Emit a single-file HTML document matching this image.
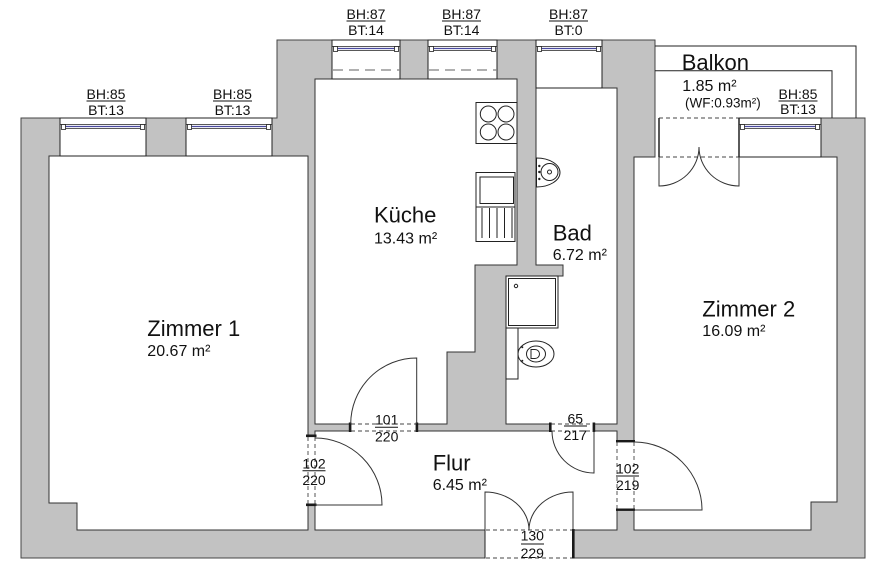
<!DOCTYPE html>
<html><head><meta charset="utf-8">
<style>
html,body{margin:0;padding:0;background:#fff;}
svg{display:block;}
text{font-family:"Liberation Sans",Arial,sans-serif;fill:#111;}
</style></head><body>
<svg width="896" height="584" viewBox="0 0 896 584" xmlns="http://www.w3.org/2000/svg">
<!-- building footprint (walls) -->
<path d="M21,118 H277 V40 H655 V118 H865 V558 H21 Z" fill="#c2c2c2" stroke="#444" stroke-width="1"/>

<!-- rooms -->
<g fill="#fff" stroke="#333" stroke-width="1">
<path d="M49,156 H308 V530 H77 V503 H49 Z"/>
<path d="M315,79 H517 V265 H475 V352 H447 V424 H315 Z"/>
<path d="M536,88 H617 V424 H506 V276 H563 V265 H536 Z"/>
<path d="M315,431 H617 V530 H315 Z"/>
<path d="M634,157 H837 V502 H811 V530 H634 Z"/>
</g>

<!-- door openings -->
<g fill="#fff" stroke="none">
<rect x="350.5" y="422.8" width="66" height="9"/>
<rect x="550.5" y="422.8" width="43" height="9"/>
<rect x="307" y="436.5" width="9" height="68"/>
<rect x="616" y="441.5" width="19" height="68"/>
<rect x="485.5" y="529" width="87" height="30"/>
<rect x="655.5" y="117.5" width="83" height="40.5"/>
</g>
<line x1="655" y1="118" x2="655" y2="157" stroke="#444" stroke-width="1"/>

<!-- windows -->
<g fill="#fff" stroke="#222" stroke-width="1">
<rect x="60" y="118" width="86" height="38"/>
<rect x="186" y="118" width="86" height="38"/>
<rect x="332" y="40" width="68" height="39"/>
<rect x="428" y="40" width="69" height="39"/>
<rect x="536" y="40" width="66" height="48"/>
<rect x="739" y="118" width="82" height="39"/>
</g>
<!-- window frames -->
<g stroke="#222" stroke-width="0.8" fill="#fff">
<g transform="translate(60,118)">
<line x1="0" y1="6.5" x2="86" y2="6.5"/><line x1="5" y1="10.5" x2="81" y2="10.5"/>
<line x1="5" y1="8.5" x2="81" y2="8.5" stroke="#4a4aa0" stroke-width="1.2"/>
<rect x="1.5" y="6.5" width="4" height="5"/><rect x="80.5" y="6.5" width="4" height="5"/></g>
<g transform="translate(186,118)">
<line x1="0" y1="6.5" x2="86" y2="6.5"/><line x1="5" y1="10.5" x2="81" y2="10.5"/>
<line x1="5" y1="8.5" x2="81" y2="8.5" stroke="#4a4aa0" stroke-width="1.2"/>
<rect x="1.5" y="6.5" width="4" height="5"/><rect x="80.5" y="6.5" width="4" height="5"/></g>
<g transform="translate(332,40)">
<line x1="0" y1="6.5" x2="68" y2="6.5"/><line x1="5" y1="10.5" x2="63" y2="10.5"/>
<line x1="5" y1="8.5" x2="63" y2="8.5" stroke="#4a4aa0" stroke-width="1.2"/>
<rect x="1.5" y="6.5" width="4" height="5"/><rect x="62.5" y="6.5" width="4" height="5"/></g>
<g transform="translate(428,40)">
<line x1="0" y1="6.5" x2="69" y2="6.5"/><line x1="5" y1="10.5" x2="64" y2="10.5"/>
<line x1="5" y1="8.5" x2="64" y2="8.5" stroke="#4a4aa0" stroke-width="1.2"/>
<rect x="1.5" y="6.5" width="4" height="5"/><rect x="63.5" y="6.5" width="4" height="5"/></g>
<g transform="translate(536,40)">
<line x1="0" y1="6.5" x2="66" y2="6.5"/><line x1="5" y1="10.5" x2="61" y2="10.5"/>
<line x1="5" y1="8.5" x2="61" y2="8.5" stroke="#4a4aa0" stroke-width="1.2"/>
<rect x="1.5" y="6.5" width="4" height="5"/><rect x="60.5" y="6.5" width="4" height="5"/></g>
<g transform="translate(739,118)">
<line x1="0" y1="6.5" x2="82" y2="6.5"/><line x1="5" y1="10.5" x2="77" y2="10.5"/>
<line x1="5" y1="8.5" x2="77" y2="8.5" stroke="#4a4aa0" stroke-width="1.2"/>
<rect x="1.5" y="6.5" width="4" height="5"/><rect x="76.5" y="6.5" width="4" height="5"/></g>
</g>
<!-- kitchen window sill dashed -->
<g stroke="#808080" stroke-width="1.2" stroke-dasharray="10 6">
<line x1="333" y1="70" x2="400" y2="70"/>
<line x1="429" y1="70" x2="497" y2="70"/>
</g>

<!-- balcony outline -->
<g stroke="#222" stroke-width="1" fill="none">
<path d="M655,46 H856 V118"/>
<path d="M655,70.7 H832 V118"/>
</g>

<!-- dashed door thresholds -->
<g stroke="#444" stroke-width="0.9" stroke-dasharray="4 3" fill="none">
<line x1="351" y1="424" x2="417" y2="424"/><line x1="351" y1="431" x2="417" y2="431"/>
<line x1="551" y1="424" x2="594" y2="424"/><line x1="551" y1="431" x2="594" y2="431"/>
<line x1="308" y1="437" x2="308" y2="505"/><line x1="315" y1="437" x2="315" y2="505"/>
<line x1="617" y1="442" x2="617" y2="510"/><line x1="634" y1="442" x2="634" y2="510"/>
<line x1="486" y1="530" x2="573" y2="530"/><line x1="486" y1="558" x2="573" y2="558"/>
<line x1="659" y1="118" x2="739" y2="118"/><line x1="659" y1="157" x2="739" y2="157"/>
</g>

<!-- jambs -->
<g fill="#1a1a1a">
<rect x="348.8" y="422.5" width="2.6" height="9.5"/><rect x="415.6" y="422.5" width="2.6" height="9.5"/>
<rect x="549" y="422.5" width="2.6" height="9.5"/><rect x="592.6" y="422.5" width="2.6" height="9.5"/>
<rect x="306" y="434.5" width="10.5" height="2.6"/><rect x="306" y="503.5" width="10.5" height="2.6"/>
<rect x="616" y="440" width="19" height="2.4"/><rect x="616" y="508.5" width="19" height="2.4"/>
<rect x="572" y="529" width="2.6" height="29.5"/>
</g>
<g stroke="#222" fill="none">
<line x1="485" y1="529" x2="485" y2="558.5" stroke-width="1"/>
<line x1="659" y1="118" x2="659" y2="157" stroke-width="1.5"/>
<line x1="739" y1="118" x2="739" y2="157" stroke-width="1.5"/>
</g>

<!-- door leaves -->
<g stroke="#333" stroke-width="1" fill="none">
<path d="M416.7,424 V358 A66,66 0 0,0 350.7,424"/>
<path d="M315,505 H382 A67,67 0 0,0 315,438"/>
<path d="M594,431 V473 A42,42 0 0,1 552,431"/>
<path d="M634,510 H702 A68,68 0 0,0 634,442"/>
<path d="M485,530 V492 A44,38 0 0,1 529,530"/>
<path d="M573,530 V492 A44,38 0 0,0 529,530"/>
<path d="M659,157 V186 A40,39 0 0,0 699,147"/>
<path d="M739,157 V186 A40,39 0 0,1 699,147"/>
</g>

<!-- kitchen fixtures -->
<g stroke="#222" stroke-width="1" fill="#fff">
<rect x="476" y="102.5" width="41" height="41"/>
<circle cx="488.3" cy="114" r="8"/><circle cx="506" cy="114" r="8"/>
<circle cx="488.3" cy="132" r="8"/><circle cx="506" cy="132" r="8"/>
<rect x="476" y="172.5" width="39" height="69"/>
<rect x="480" y="177" width="33.5" height="26.5"/>
<line x1="476" y1="207" x2="515" y2="207"/>
<line x1="482" y1="208" x2="482" y2="238"/>
<line x1="489.5" y1="208" x2="489.5" y2="238"/>
<line x1="497" y1="208" x2="497" y2="238"/>
<line x1="504.5" y1="208" x2="504.5" y2="238"/>
<line x1="512" y1="208" x2="512" y2="238"/>
</g>

<!-- bath fixtures -->
<g stroke="#222" stroke-width="1" fill="#fff">
<path d="M536.5,158 A23.5,14.5 0 0,1 536.5,187 Z"/>
<circle cx="549.5" cy="172" r="8.5"/>
<circle cx="549.5" cy="172" r="2"/>
<rect x="506" y="276" width="52" height="52"/>
<rect x="508.5" y="278.5" width="47" height="47"/>
<circle cx="516" cy="286" r="1.7"/>
<rect x="506" y="328" width="12" height="51"/>
<ellipse cx="536" cy="354" rx="18" ry="13"/>
<ellipse cx="536" cy="354" rx="9.5" ry="8"/>
<path d="M531,349.5 H535 A4.5,4.5 0 0,1 535,358.5 H531 Z"/>
</g>
<g fill="#222">
<circle cx="539.3" cy="166" r="1.2"/><circle cx="539.3" cy="172" r="1.2"/><circle cx="539.3" cy="179" r="1.2"/>
<circle cx="522.3" cy="347.3" r="1"/><circle cx="522.3" cy="360.7" r="1"/>
</g>

<!-- room labels -->
<g font-size="22">
<text x="147.3" y="336">Zimmer 1</text>
<text x="374" y="222.3">Küche</text>
<text x="552.7" y="240.7">Bad</text>
<text x="702.3" y="316.7">Zimmer 2</text>
<text x="432.7" y="470.7">Flur</text>
<text x="681.7" y="70">Balkon</text>
</g>
<g font-size="16">
<text x="147.3" y="356">20.67 m²</text>
<text x="374" y="243.3">13.43 m²</text>
<text x="552.7" y="260">6.72 m²</text>
<text x="702.3" y="336">16.09 m²</text>
<text x="432.7" y="490">6.45 m²</text>
<text x="682.3" y="91">1.85 m²</text>
</g>
<text x="685" y="107.3" font-size="13.5">(WF:0.93m²)</text>

<!-- window labels -->
<g font-size="14" text-anchor="middle">
<text x="106" y="99">BH:85</text><text x="106" y="115">BT:13</text>
<text x="232.5" y="99">BH:85</text><text x="232.5" y="115">BT:13</text>
<text x="366" y="19">BH:87</text><text x="366" y="35">BT:14</text>
<text x="461.5" y="19">BH:87</text><text x="461.5" y="35">BT:14</text>
<text x="568.5" y="19">BH:87</text><text x="568.5" y="35">BT:0</text>
<text x="798" y="99">BH:85</text><text x="798" y="114">BT:13</text>
</g>
<g stroke="#111" stroke-width="1">
<line x1="86.5" y1="101" x2="125.5" y2="101"/>
<line x1="213" y1="101" x2="252" y2="101"/>
<line x1="346.5" y1="21" x2="385.5" y2="21"/>
<line x1="442" y1="21" x2="481" y2="21"/>
<line x1="549" y1="21" x2="588" y2="21"/>
<line x1="778.5" y1="101" x2="817.5" y2="101"/>
</g>

<!-- door labels -->
<g font-size="14" text-anchor="middle">
<text x="386.7" y="424.3">101</text><text x="386.7" y="441.7">220</text>
<text x="314" y="468.3">102</text><text x="314" y="485">220</text>
<text x="575.3" y="423.3">65</text><text x="575.3" y="440">217</text>
<text x="627.7" y="473.3">102</text><text x="627.7" y="490">219</text>
<text x="532.3" y="540.7">130</text><text x="532.3" y="558">229</text>
</g>
<g stroke="#111" stroke-width="1">
<line x1="375" y1="427.3" x2="398" y2="427.3"/>
<line x1="302.5" y1="470.7" x2="325.5" y2="470.7"/>
<line x1="564" y1="426" x2="587" y2="426"/>
<line x1="616" y1="476" x2="639" y2="476"/>
<line x1="521" y1="544" x2="544" y2="544"/>
</g>
</svg>
</body></html>
